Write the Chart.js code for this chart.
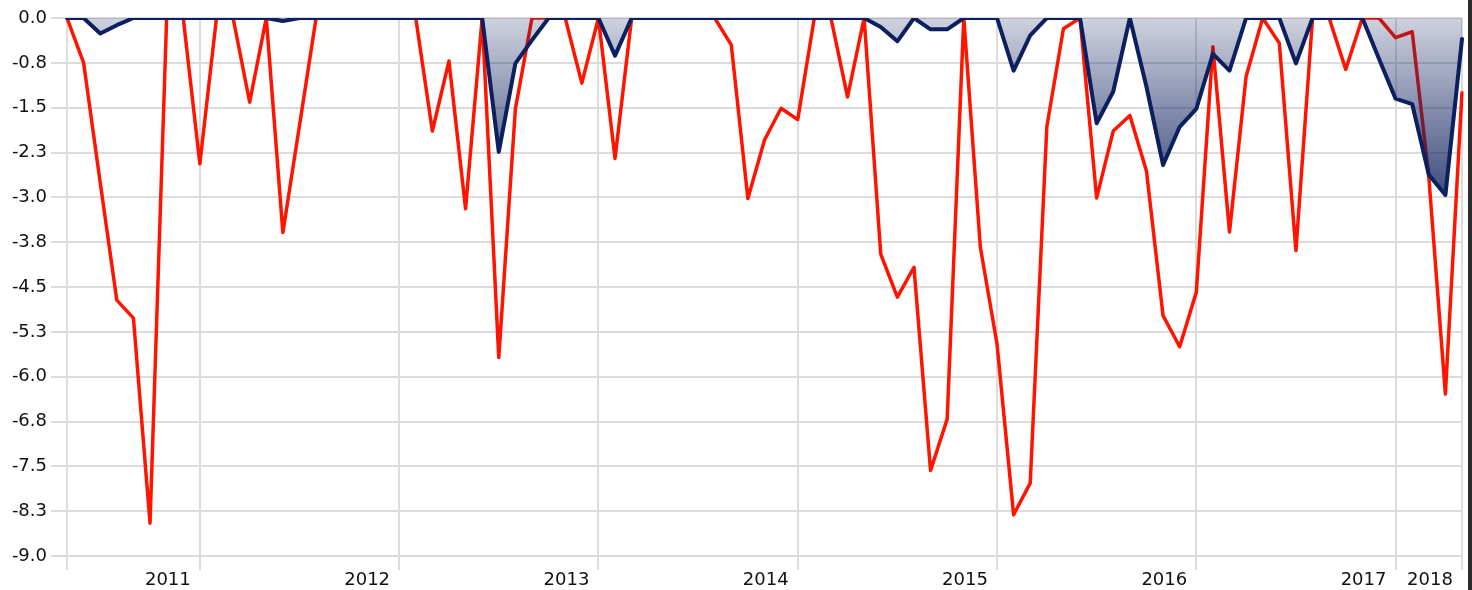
<!DOCTYPE html>
<html>
<head>
<meta charset="utf-8">
<script src="https://cdn.jsdelivr.net/npm/chart.js@4/dist/chart.umd.min.js"></script>
<style>
    html, body { margin: 0; padding: 0; background: #fff; }
    #wrap { width: 1468px; height: 590px; border-right: 4px solid #2b2b2b; }
</style>
</head>
<body>
<div id="wrap"><canvas id="myChart" width="1468" height="590"></canvas></div>
<script>
// monthly points, May 2010 .. (85 points)
const categories = [];
for (let i = 0; i < 85; i++) {
    const m = 4 + i;
    categories.push((2010 + Math.floor(m / 12)) + '-' + String(m % 12 + 1).padStart(2, '0'));
}

// year gridlines: index of the point -> label
const xTickIndex  = [0, 8, 20, 32, 44, 56, 68, 80, 84];
const xTickLabels = ['', '2011', '2012', '2013', '2014', '2015', '2016', '2017', '2018'];

const yTickLabels = ['-9.0', '-8.3', '-7.5', '-6.8', '-6.0', '-5.3', '-4.5', '-3.8', '-3.0', '-2.3', '-1.5', '-0.8', '0.0'];

const redSeries = [
    0, -0.75, -2.75, -4.72, -5.02, -8.45, 0, 0, -2.44, 0,
    0, -1.41, 0, -3.59, -1.8, 0, 0, 0, 0, 0,
    0, 0, -1.89, -0.72, -3.19, 0, -5.68, -1.52, 0, 0,
    0, -1.09, 0, -2.35, 0, 0, 0, 0, 0, 0,
    -0.45, -3.02, -2.04, -1.51, -1.70, 0, 0, -1.32, 0, -3.95,
    -4.67, -4.17, -7.57, -6.71, 0, -3.84, -5.45, -8.31, -7.78, -1.82,
    -0.18, 0, -3.01, -1.89, -1.63, -2.56, -4.98, -5.50, -4.59, -0.48,
    -3.58, -0.98, 0, -0.42, -3.89, 0, 0, -0.86, 0, 0,
    -0.33, -0.23, -2.65, -6.29, -1.25
];

const navySeries = [
    0, 0, -0.26, -0.12, 0, 0, 0, 0, 0, 0,
    0, 0, 0, -0.05, 0, 0, 0, 0, 0, 0,
    0, 0, 0, 0, 0, 0, -2.24, -0.76, -0.37, 0,
    0, 0, 0, -0.63, 0, 0, 0, 0, 0, 0,
    0, 0, 0, 0, 0, 0, 0, 0, 0, -0.15,
    -0.39, 0, -0.19, -0.19, 0, 0, 0, -0.88, -0.29, 0,
    0, 0, -1.76, -1.23, 0, -1.15, -2.46, -1.82, -1.52, -0.6,
    -0.88, 0, 0, 0, -0.76, 0, 0, 0, 0, -0.68,
    -1.35, -1.44, -2.62, -2.96, -0.35
];

const GRID = '#dcdcdc';
const FONT = { family: "'DejaVu Sans', Verdana, sans-serif", size: 18 };

function navyFill(context) {
    const chart = context.chart;
    if (!chart.chartArea) return 'rgba(13,31,92,0.3)';
    const y = chart.scales.y;
    const g = chart.ctx.createLinearGradient(0, y.getPixelForValue(0), 0, y.getPixelForValue(-3));
    g.addColorStop(0, 'rgba(13,31,92,0.2)');
    g.addColorStop(1, 'rgba(13,31,92,0.8)');
    return g;
}

const ctx = document.getElementById('myChart').getContext('2d');
new Chart(ctx, {
    type: 'line',
    data: {
        labels: categories,
        datasets: [
            {
                label: 'Navy',
                data: navySeries,
                borderColor: '#0c1f5e',
                borderWidth: 4,
                backgroundColor: navyFill,
                fill: 'origin',
                pointRadius: 0,
                tension: 0,
                borderJoinStyle: 'round',
                borderCapStyle: 'round'
            },
            {
                label: 'Red',
                data: redSeries,
                borderColor: '#ff1400',
                borderWidth: 3.5,
                fill: false,
                pointRadius: 0,
                tension: 0,
                borderJoinStyle: 'round',
                borderCapStyle: 'round'
            }
        ]
    },
    options: {
        responsive: false,
        animation: false,
        layout: { padding: { top: 18, right: 6, bottom: 0, left: 0 } },
        plugins: { legend: { display: false }, tooltip: { enabled: false } },
        scales: {
            x: {
                offset: false,
                grid: {
                    lineWidth: 2,
                    tickLength: 14,
                    color: (c) => xTickIndex.includes(c.index) ? GRID : 'rgba(0,0,0,0)'
                },
                border: { color: GRID, width: 2 },
                ticks: {
                    autoSkip: false,
                    maxRotation: 0,
                    padding: 0,
                    labelOffset: -32,
                    color: '#111',
                    font: FONT,
                    callback: function(value, index) {
                        const k = xTickIndex.indexOf(index);
                        return k >= 0 ? xTickLabels[k] : '';
                    }
                },
                afterFit: function(scale) {
                    scale.height = 34;
                    scale.paddingLeft = 0;
                    scale.paddingRight = 0;
                }
            },
            y: {
                min: -9,
                max: 0,
                grid: { color: GRID, lineWidth: 2, tickLength: 16 },
                border: { color: GRID, width: 2 },
                ticks: {
                    stepSize: 0.75,
                    padding: 4,
                    color: '#111',
                    font: FONT,
                    callback: function(value, index) {
                        return yTickLabels[index] !== undefined ? yTickLabels[index] : value.toFixed(1);
                    }
                },
                afterFit: function(scale) {
                    scale.width = 67;
                }
            }
        }
    }
});
</script>
</body>
</html>
